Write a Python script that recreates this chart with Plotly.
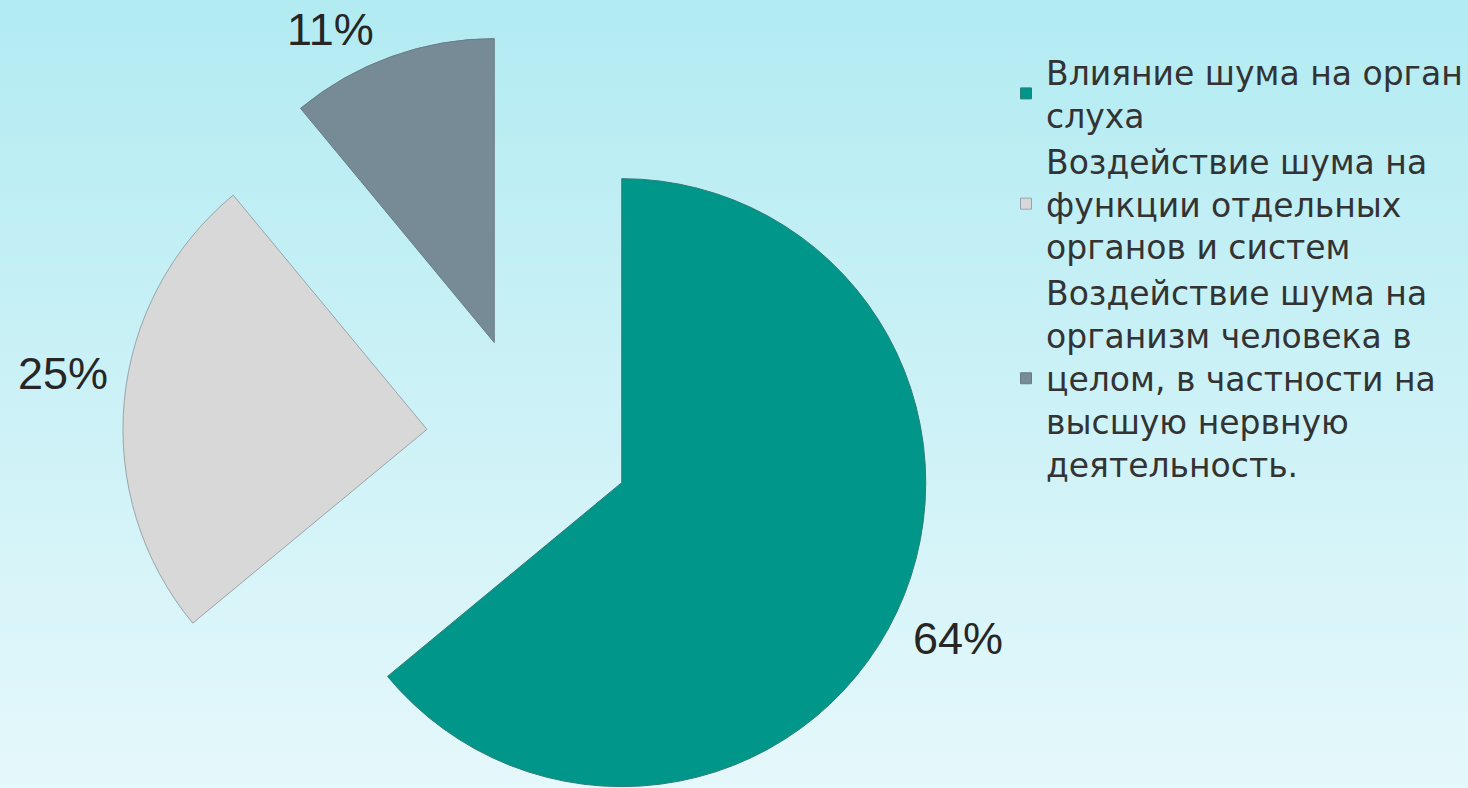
import math
import plotly.graph_objects as go

# ---- data ----
categories = [
    "Влияние шума на орган<br>слуха",
    "Воздействие шума на<br>функции отдельных<br>органов и систем",
    "Воздействие шума на<br>организм человека в<br>целом, в частности на<br>высшую нервную<br>деятельность.",
]
values = [64, 25, 11]
colors = ["#00968a", "#d8d8d8", "#778b96"]
edge_colors = ["#2c7d76", "#98a5aa", "#687c87"]

# ---- layout constants ----
W, H = 1468, 788
CX, CY = 529, 439      # pie centre (px)
R = 304                # pie radius (px)
EXPLODE = 102.5        # explosion distance (px)
LABEL_SIZE = 45
LABEL_GAP_X, LABEL_GAP_Y = 16, 10
TEXT_COLOR = "#262626"
FONT = "Liberation Sans, Arial, sans-serif"
LEGEND_FONT = "DejaVu Sans, Arial, sans-serif"

fig = go.Figure()

# background gradient
fig.add_trace(go.Scatter(
    x=[0, 1, 1, 0, 0], y=[0, 0, 1, 1, 0], mode="none", fill="toself",
    fillgradient=dict(type="vertical", colorscale=[[0, "#e5f8fb"], [1, "#b2ebf2"]]),
    hoverinfo="skip", showlegend=False,
))

total = sum(values)
n = len(values)
cum = 0.0
annotations = []
for i, v in enumerate(values):
    mid = (cum + v / 2) / total * 2 * math.pi
    cum += v
    ux, uy = math.sin(mid), -math.cos(mid)
    px = CX + EXPLODE * ux
    py = CY + EXPLODE * uy
    dx = [max(0.0, (px - R) / W), min(1.0, (px + R) / W)]
    dy = [max(0.0, 1 - (py + R) / H), min(1.0, 1 - (py - R) / H)]
    slice_colors = [colors[j] if j == i else "rgba(0,0,0,0)" for j in range(n)]
    line_colors = [edge_colors[j] if j == i else "rgba(0,0,0,0)" for j in range(n)]
    line_widths = [1 if j == i else 0 for j in range(n)]
    fig.add_trace(go.Pie(
        labels=categories, values=values, sort=False, direction="clockwise",
        rotation=0, domain=dict(x=dx, y=dy),
        marker=dict(colors=slice_colors, line=dict(color=line_colors, width=line_widths)),
        textinfo="none", showlegend=False, hoverinfo="skip",
    ))
    # percentage label: outside end, box corner next to the arc mid-point
    pct = f"{round(v / total * 100)}%"
    half_w = 0.5 * 2.0 * LABEL_SIZE
    half_h = 0.375 * LABEL_SIZE
    lx = px + R * ux + math.copysign(half_w + LABEL_GAP_X, ux)
    ly = py + R * uy + math.copysign(half_h + LABEL_GAP_Y, uy)
    annotations.append(dict(
        text=pct, x=lx / W, y=1 - ly / H, xref="paper", yref="paper",
        xanchor="center", yanchor="middle", showarrow=False,
        font=dict(size=LABEL_SIZE, color=TEXT_COLOR, family=FONT),
    ))

# legend entries
for i, name in enumerate(categories):
    fig.add_trace(go.Scatter(
        x=[None], y=[None], mode="markers", name=name,
        marker=dict(symbol="square", size=11, color=colors[i],
                    line=dict(color=edge_colors[i], width=1)),
    ))

fig.update_layout(
    width=W, height=H,
    margin=dict(l=0, r=0, t=0, b=0),
    paper_bgcolor="#d0f2f7", plot_bgcolor="rgba(0,0,0,0)",
    xaxis=dict(visible=False, range=[0, 1], fixedrange=True),
    yaxis=dict(visible=False, range=[0, 1], fixedrange=True),
    showlegend=True,
    legend=dict(
        x=1006 / W, y=1 - 44 / H, xanchor="left", yanchor="top",
        bgcolor="rgba(0,0,0,0)", valign="middle",
        font=dict(size=33, color="#333333", family=LEGEND_FONT),
        tracegroupgap=0,
    ),
    annotations=annotations,
    font=dict(family=FONT),
)

fig.write_html("out.html", config={"displayModeBar": False},
               post_script="document.body.style.margin='0px';")
